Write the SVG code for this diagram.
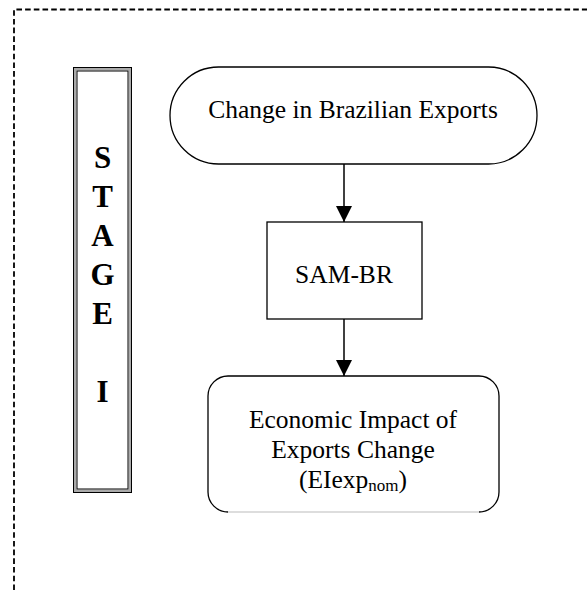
<svg xmlns="http://www.w3.org/2000/svg" width="587" height="590" viewBox="0 0 587 590">
<style>
.t{font-family:"Liberation Serif","Times New Roman",serif;font-size:25.5px;fill:#000;text-anchor:middle}
.b{font-family:"Liberation Serif","Times New Roman",serif;font-size:31px;font-weight:bold;fill:#000;text-anchor:middle}
.s{fill:#fff;stroke:#000;stroke-width:1.3}
.c{stroke:#000;stroke-width:1.5;fill:none}
</style>
<defs>
<marker id="ah" markerWidth="16" markerHeight="17" refX="16" refY="8" orient="auto" markerUnits="userSpaceOnUse">
<path d="M0,0 L16,8 L0,16 Z" fill="#000"/>
</marker>
</defs>
<rect width="587" height="590" fill="#fff"/>
<g id="frame">
<path d="M14,590 V9.5 H587" fill="none" stroke="#000" stroke-width="1.8" stroke-dasharray="5.6,3.1"/>
</g>
<g id="stage">
<rect x="73.5" y="67.5" width="58" height="425" fill="#fff" stroke="#000" stroke-width="1"/>
<rect x="75.2" y="69.2" width="54.6" height="421.6" fill="none" stroke="#aaa" stroke-width="2.4"/>
<rect x="77" y="71" width="51" height="418" fill="none" stroke="#000" stroke-width="1"/>
<text class="b" x="102.5" y="168">S</text>
<text class="b" x="102.5" y="207">T</text>
<text class="b" x="102.5" y="246">A</text>
<text class="b" x="102.5" y="285">G</text>
<text class="b" x="102.5" y="324">E</text>
<text class="b" x="102.5" y="402">I</text>
</g>
<g id="connectors">
<line class="c" x1="344" y1="164" x2="344" y2="222" marker-end="url(#ah)"/>
<line class="c" x1="344" y1="319" x2="344" y2="376" marker-end="url(#ah)"/>
</g>
<g id="start">
<rect class="s" x="170" y="67" width="367" height="97" rx="48.5" ry="48.5"/>
<text class="t" x="353" y="118">Change in Brazilian Exports</text>
</g>
<g id="sam">
<rect class="s" x="267" y="222" width="155" height="97"/>
<text class="t" x="344" y="283">SAM-BR</text>
</g>
<g id="impact">
<rect x="208" y="376" width="291" height="136" rx="20" ry="20" fill="#fff"/>
<path d="M228,512 A20,20 0 0 1 208,492 V396 A20,20 0 0 1 228,376 H479 A20,20 0 0 1 499,396 V492 A20,20 0 0 1 479,512" fill="none" stroke="#000" stroke-width="1.3"/>
<line x1="228" y1="512" x2="479" y2="512" stroke="#bbb" stroke-width="1"/>
<text class="t" x="353" y="428">Economic Impact of</text>
<text class="t" x="353" y="458">Exports Change</text>
<text class="t" x="353" y="488">(EIexp<tspan font-size="17" dy="3">nom</tspan><tspan dy="-3">)</tspan></text>
</g>
</svg>
